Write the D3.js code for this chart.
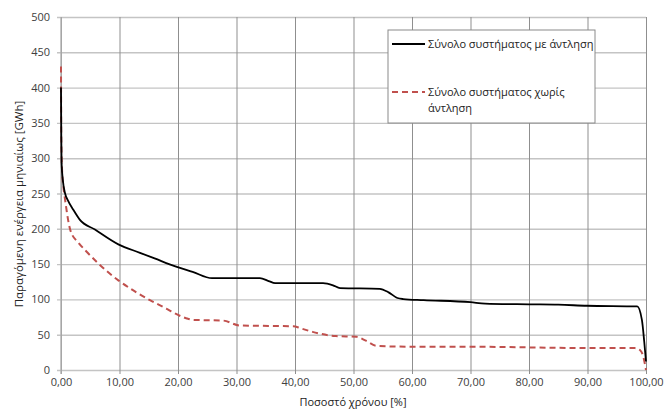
<!DOCTYPE html>
<html>
<head>
<meta charset="utf-8">
<script src="https://cdn.jsdelivr.net/npm/d3@7"></script>
<style>
  body { margin: 0; background: #fff; }
  svg { display: block; font-family: "Open Sans", "Noto Sans", sans-serif; }
</style>
</head>
<body>
<svg id="chart" width="669" height="414"></svg>
<script>
// series values (percent of time, GWh)
const pctWithPump = [0, 0.05, 0.1, 0.3, 0.7, 1.2, 2.1, 3.2, 5.8, 9.8, 13.5, 16, 19.8, 22.5, 25.8, 34, 35.5, 36.6, 44.8, 46.5, 47.7, 54.5, 56, 57.5, 58.5, 62, 70, 72.5, 80, 85, 89.9, 98.5, 99.3, 99.7, 100];
const valWithPump = [400, 330, 293, 270, 250, 240, 227, 213, 199, 178, 166, 158, 146, 139, 130, 130, 126, 123, 123, 120, 116, 115, 110, 102, 100.5, 99, 96, 94, 93, 92.5, 91, 90, 71, 40, 12];

const pctNoPump = [0, 0.05, 0.2, 0.4, 0.7, 1.6, 3, 4.1, 6.5, 9.8, 12.5, 15.2, 18, 20, 21.5, 22.6, 27.7, 30.6, 39.7, 41, 43, 47, 50.5, 52, 54, 60, 70, 80, 90, 98.1, 99, 99.5, 100];
const valNoPump = [430, 330, 280, 260, 241, 198, 180, 170, 150, 127, 112, 99, 87, 78, 73, 71, 70, 63, 62, 59, 54, 48, 47, 42, 34, 33, 33, 32, 31, 31, 28, 20, 0];

const xTicks = [0, 10, 20, 30, 40, 50, 60, 70, 80, 90, 100];
const yTicks = [0, 50, 100, 150, 200, 250, 300, 350, 400, 450, 500];

const seriesNames = ["Σύνολο συστήματος με άντληση", "Σύνολο συστήματος χωρίς άντληση"];

const margin = {top: 17, right: 23, bottom: 44, left: 61};
const W = 669, H = 414;
const w = W - margin.left - margin.right;
const h = H - margin.top - margin.bottom;

const svg = d3.select("#chart");
const g = svg.append("g").attr("transform", `translate(${margin.left},${margin.top})`);

const x = d3.scaleLinear().domain([0, 100]).range([0, w]);
const y = d3.scaleLinear().domain([0, 500]).range([h, 0]);

const fmt = d => d3.format(".2f")(d).replace(".", ",");

// horizontal grid
g.append("g")
  .call(d3.axisLeft(y).tickValues(yTicks).tickSize(-w - 4).tickFormat(""))
  .attr("transform", "translate(-4,0)")
  .call(s => s.select(".domain").remove())
  .selectAll("line").attr("stroke", "#c4c4c4").attr("stroke-width", 1.4)
  .attr("x1", 0).attr("x2", w + 4);

// vertical grid
g.append("g")
  .attr("transform", `translate(0,${h})`)
  .call(d3.axisBottom(x).tickValues(xTicks).tickSize(-h - 4).tickFormat(""))
  .call(s => s.select(".domain").remove())
  .selectAll("line").attr("stroke", "#8f8f8f").attr("stroke-width", 1)
  .attr("y1", 4).attr("y2", -h);

// left axis line
g.append("line").attr("x1", 0).attr("x2", 0).attr("y1", 0).attr("y2", h + 4)
  .attr("stroke", "#b0b0b0").attr("stroke-width", 1.4);

// y tick labels
g.append("g")
  .call(d3.axisLeft(y).tickValues(yTicks).tickSize(0).tickPadding(11))
  .call(s => s.select(".domain").remove())
  .selectAll("text").attr("font-size", 11).attr("fill", "#404040")
  .attr("font-family", "Open Sans, sans-serif");

// x tick labels
g.append("g")
  .attr("transform", `translate(0,${h})`)
  .call(d3.axisBottom(x).tickValues(xTicks).tickSize(0).tickPadding(8).tickFormat(fmt))
  .call(s => s.select(".domain").remove())
  .selectAll("text").attr("font-size", 11).attr("fill", "#404040")
  .attr("font-family", "Open Sans, sans-serif");

// curves
const line = d3.line().x(d => x(d[0])).y(d => y(d[1])).curve(d3.curveMonotoneX);

g.append("path")
  .datum(d3.zip(pctNoPump, valNoPump))
  .attr("d", line)
  .attr("fill", "none").attr("stroke", "#c0504d").attr("stroke-width", 2)
  .attr("stroke-dasharray", "6,4");

g.append("path")
  .datum(d3.zip(pctWithPump, valWithPump))
  .attr("d", line)
  .attr("fill", "none").attr("stroke", "#000").attr("stroke-width", 1.8);

// axis titles
svg.append("text")
  .attr("x", 353).attr("y", 406)
  .attr("text-anchor", "middle").attr("font-size", 11).attr("fill", "#222")
  .text("Ποσοστό χρόνου [%]");

svg.append("text")
  .attr("transform", "translate(23,204) rotate(-90)")
  .attr("text-anchor", "middle").attr("font-size", 11.5).attr("fill", "#222")
  .text("Παραγόμενη ενέργεια μηνιαίως  [GWh]");

// legend
const lg = svg.append("g").attr("transform", "translate(388,30)");
lg.append("rect").attr("width", 207).attr("height", 93)
  .attr("fill", "#fff").attr("stroke", "#8a8a8a").attr("stroke-width", 1);

lg.append("line").attr("x1", 4).attr("x2", 37).attr("y1", 14).attr("y2", 14)
  .attr("stroke", "#000").attr("stroke-width", 1.8);
lg.append("text").attr("x", 40).attr("y", 18).attr("font-size", 11).attr("fill", "#222")
  .text(seriesNames[0]);

lg.append("line").attr("x1", 4).attr("x2", 37).attr("y1", 62).attr("y2", 62)
  .attr("stroke", "#c0504d").attr("stroke-width", 2).attr("stroke-dasharray", "6,4");
const t2 = lg.append("text").attr("x", 40).attr("y", 66).attr("font-size", 11).attr("fill", "#222");
t2.append("tspan").text("Σύνολο συστήματος χωρίς");
t2.append("tspan").attr("x", 40).attr("dy", 16).text("άντληση");
</script>
</body>
</html>
